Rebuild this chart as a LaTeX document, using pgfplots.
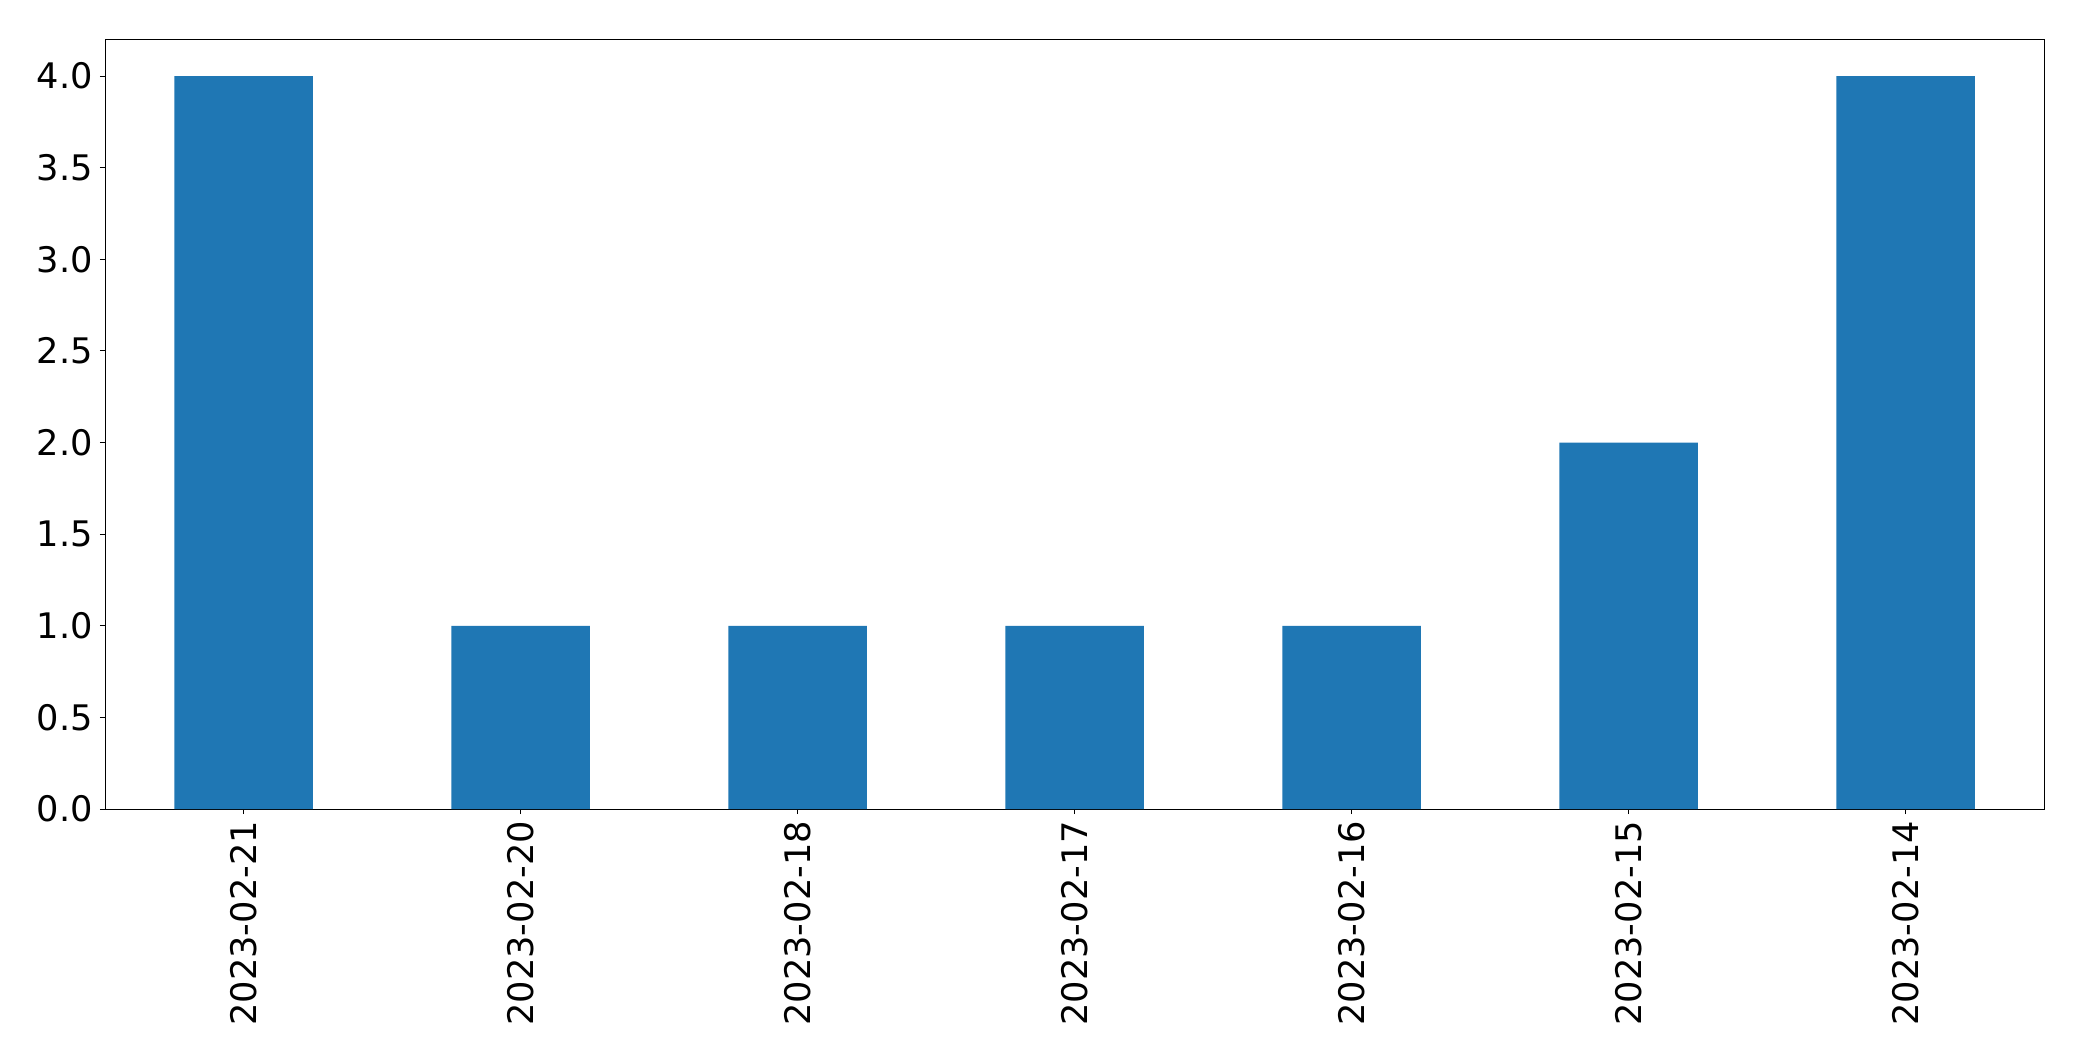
\documentclass[border=0pt]{standalone}
\usepackage{fontspec}
\setmainfont{DejaVu Sans}
\usepackage{pgfplots}
\pgfplotsset{compat=1.18}
\definecolor{mplblue}{HTML}{1F77B4}
\begin{document}
\begin{tikzpicture}
\begin{axis}[
    at={(0,0)}, anchor=south west,
    scale only axis,
    width=969.5pt, height=384.75pt,
    xmin=-0.5, xmax=6.5,
    ymin=0, ymax=4.2,
    xtick={0,1,2,3,4,5,6},
    xticklabels={2023-02-21,2023-02-20,2023-02-18,2023-02-17,2023-02-16,2023-02-15,2023-02-14},
    ytick={0,0.5,1,1.5,2,2.5,3,3.5,4},
    yticklabel style={/pgf/number format/fixed, /pgf/number format/fixed zerofill, /pgf/number format/precision=1},
    /pgf/number format/assume math mode=true,
    tick label style={font=\fontsize{17.6pt}{20pt}\selectfont},
    xticklabel style={rotate=90, anchor=east},
    tick align=outside,
    major tick length=2.5pt,
    xtick pos=bottom, ytick pos=left,
    axis line style={black, line width=0.5pt},
    every tick/.style={black, line width=0.5pt},
    ]
    \addplot[ybar, bar width=0.5, bar shift=0pt, fill=mplblue, draw=none]
        coordinates {(0,4)(1,1)(2,1)(3,1)(4,1)(5,2)(6,4)};
\end{axis}
\useasboundingbox (-52.5pt,-126pt) rectangle (988.5pt,404.5pt);
\end{tikzpicture}
\end{document}
